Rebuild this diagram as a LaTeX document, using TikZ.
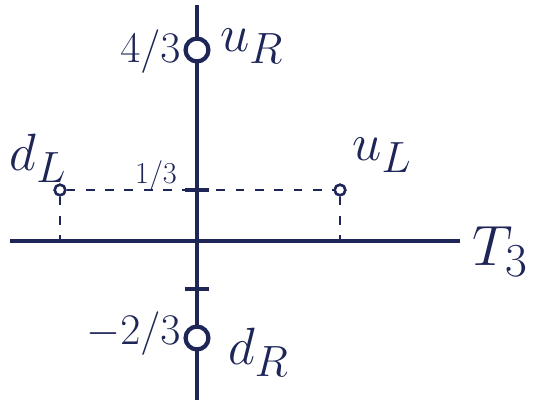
\documentclass[tikz,border=0pt]{standalone}
\usepackage{fontspec}
\usetikzlibrary{positioning}
\definecolor{cink}{HTML}{1E2557}
\tikzset{
  every picture/.style={line width=2pt, draw=cink, text=cink},
  axis/.style={draw=cink, line width=2.4pt},
  bigdot/.style={circle, draw=cink, line width=2.4pt, fill=white, minimum size=13pt, inner sep=0pt},
  smalldot/.style={circle, draw=cink, line width=1.4pt, fill=white, minimum size=6pt, inner sep=0pt},
  tickmark/.style={draw=cink, line width=2.4pt},
  guide/.style={draw=cink, line width=1.4pt, dash pattern=on 5pt off 6pt},
  lbl/.style={font=\Huge, text=cink, inner sep=1pt},
}
\begin{document}
\begin{tikzpicture}[x=0.02cm, y=-0.02cm]
  \useasboundingbox (0,0) rectangle (541,400);
  % axes
  \coordinate (top) at (197,5);
  \coordinate (bot) at (197,400);
  \coordinate (left) at (10,241);
  \coordinate (right) at (460,241);
  \draw[axis] (top) -- (bot);
  \draw[axis] (left) -- (right);
  % ticks on the vertical axis
  \coordinate (t1) at (197,190);
  \coordinate (t2) at (197,289);
  \draw[tickmark] ([xshift=-7]t1) -- ([xshift=7]t1);
  \draw[tickmark] ([xshift=-7]t2) -- ([xshift=7]t2);
  % left-handed states and their guides
  \node[smalldot] (dL) at (60,190) {};
  \node[smalldot] (uL) at (340,190) {};
  \coordinate (dL0) at (60,241);
  \coordinate (uL0) at (340,241);
  \draw[guide] (dL) -- (t1);
  \draw[guide] (t1) -- (uL);
  \draw[guide] (dL) -- (dL0);
  \draw[guide] (uL) -- (uL0);
  \node[smalldot] at (dL) {};
  \node[smalldot] at (uL) {};
  % right-handed states
  \node[bigdot] (uR) at (197,50) {};
  \node[bigdot] (dR) at (197,338) {};
  % labels
  \node[lbl, anchor=east] (uRv) at (184,52) {$4/3$};
  \node[lbl, anchor=west, scale=1.2] (uRn) at (216,46) {$u_R$};
  \node[lbl] (tv) at (156,176) {\LARGE$1/3$};
  \node[lbl, scale=1.2] (dLn) at (38,158) {$d_L$};
  \node[lbl, scale=1.2] (uLn) at (382,155) {$u_L$};
  \node[lbl, anchor=east] (dRv) at (184,334) {$-2/3$};
  \node[lbl, anchor=west, scale=1.2] (dRn) at (224,352) {$d_R$};
  \node[lbl, anchor=west, scale=1.3] (axn) at (468,252) {$T_3$};
\end{tikzpicture}
\end{document}
